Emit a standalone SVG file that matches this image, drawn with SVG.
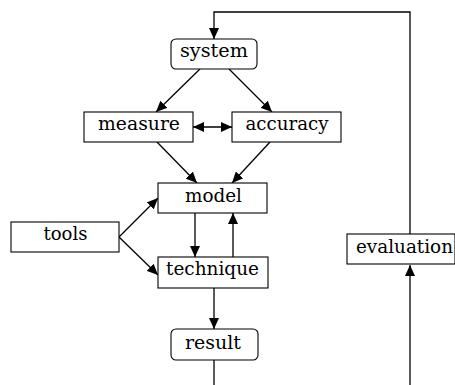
<svg xmlns="http://www.w3.org/2000/svg" width="455" height="385" viewBox="0 0 455 385">
<style>
.box{fill:#fff;stroke:#000;stroke-width:1.1}
.lbl{font-family:'DejaVu Serif','Liberation Serif',serif;font-size:18px;fill:#000;text-anchor:middle}
.c{fill:none;stroke:#000;stroke-width:1.3}
</style>
<defs>
<marker id="ah" markerUnits="userSpaceOnUse" markerWidth="12" markerHeight="10" refX="11" refY="5" orient="auto">
<path d="M0,0 L11,5 L0,10 Z" fill="#000"/>
</marker>
<marker id="as" markerUnits="userSpaceOnUse" markerWidth="12" markerHeight="10" refX="1" refY="5" orient="auto">
<path d="M12,0 L1,5 L12,10 Z" fill="#000"/>
</marker>
</defs>
<rect width="455" height="385" fill="#fff"/>
<g id="connectors">
<path class="c" d="M410,385 V265" marker-end="url(#ah)"/>
<path class="c" d="M410,234 V12 H214 V39" marker-end="url(#ah)"/>
<path class="c" d="M200,69 L156,112" marker-end="url(#ah)"/>
<path class="c" d="M229,69 L272,112" marker-end="url(#ah)"/>
<path class="c" d="M193,127 L232,127" marker-start="url(#as)" marker-end="url(#ah)"/>
<path class="c" d="M157,142 L197,183" marker-end="url(#ah)"/>
<path class="c" d="M270,142 L232,183" marker-end="url(#ah)"/>
<path class="c" d="M119,237 L158,198" marker-end="url(#ah)"/>
<path class="c" d="M119,237 L158,275" marker-end="url(#ah)"/>
<path class="c" d="M195,213 V257" marker-end="url(#ah)"/>
<path class="c" d="M233,257 V213" marker-end="url(#ah)"/>
<path class="c" d="M214,288 V329" marker-end="url(#ah)"/>
<path class="c" d="M214,360 V385"/>
</g>
<g id="system"><rect class="box" x="171" y="39" width="86" height="30" rx="5"/><text class="lbl" x="214" y="57" textLength="68" lengthAdjust="spacingAndGlyphs">system</text></g>
<g id="measure"><rect class="box" x="84" y="112" width="109" height="30"/><text class="lbl" x="139" y="130" textLength="82" lengthAdjust="spacingAndGlyphs">measure</text></g>
<g id="accuracy"><rect class="box" x="232" y="112" width="109" height="30"/><text class="lbl" x="287" y="130" textLength="83" lengthAdjust="spacingAndGlyphs">accuracy</text></g>
<g id="model"><rect class="box" x="158" y="183" width="109" height="30"/><text class="lbl" x="213.5" y="201.5" textLength="57" lengthAdjust="spacingAndGlyphs">model</text></g>
<g id="tools"><rect class="box" x="11" y="222" width="108" height="30"/><text class="lbl" x="65.5" y="239.5" textLength="44" lengthAdjust="spacingAndGlyphs">tools</text></g>
<g id="technique"><rect class="box" x="158" y="257" width="110" height="31"/><text class="lbl" x="212.5" y="274.5" textLength="93" lengthAdjust="spacingAndGlyphs">technique</text></g>
<g id="result"><rect class="box" x="171" y="329" width="87" height="31" rx="5"/><text class="lbl" x="213" y="348.5" textLength="56" lengthAdjust="spacingAndGlyphs">result</text></g>
<g id="evaluation"><rect class="box" x="347" y="234" width="108" height="30"/><text class="lbl" x="404.5" y="252.5" textLength="97" lengthAdjust="spacingAndGlyphs">evaluation</text></g>
</svg>
